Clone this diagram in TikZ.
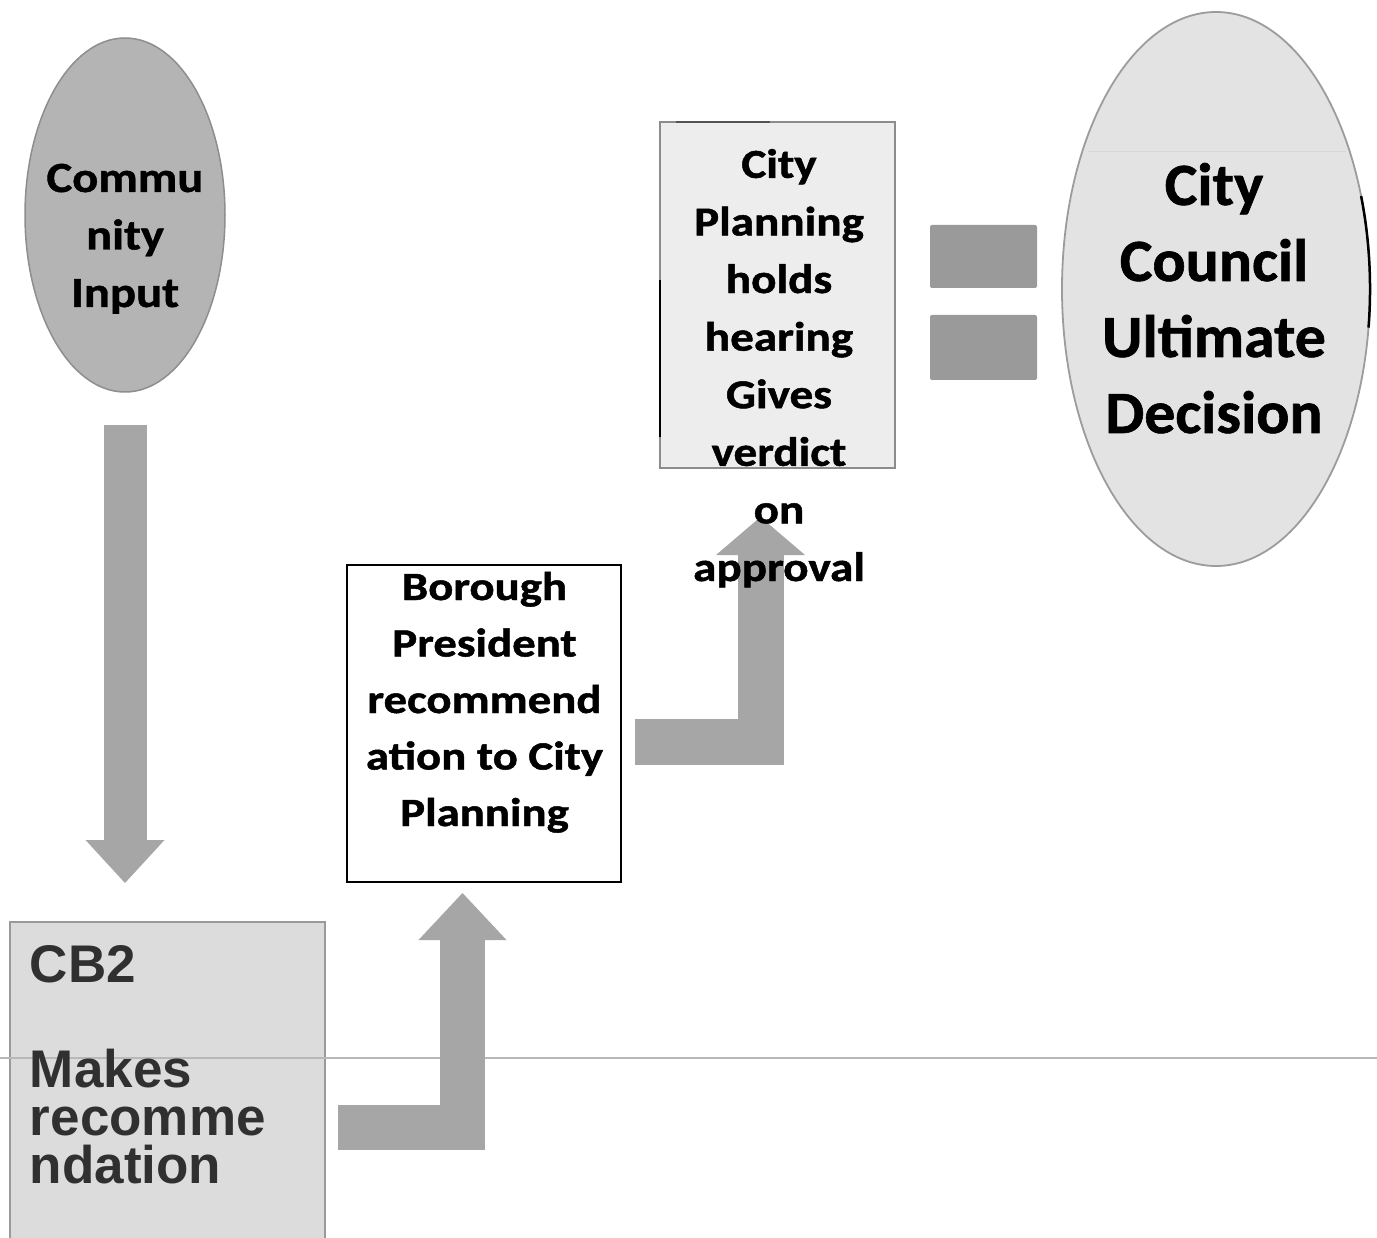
\documentclass[tikz,border=0pt]{standalone}
\usepackage{fontspec}
\setmainfont{Carlito}
\newfontfamily\ciFont[FakeStretch=1.13,FakeBold=1]{Carlito}
\newfontfamily\bpFont[FakeStretch=1.17,FakeBold=1.2]{Carlito}
\newfontfamily\cpFont[FakeStretch=1.15,FakeBold=1.2]{Carlito}
\newfontfamily\ccFont[FakeStretch=1.03,FakeBold=1]{Carlito}
\newfontfamily\arialFont{Liberation Sans}
\usetikzlibrary{arrows.meta,shapes.geometric}
\definecolor{arrowgray}{HTML}{A6A6A6}
\definecolor{eqgray}{HTML}{9A9A9A}
\definecolor{ciFill}{HTML}{B4B4B4}
\definecolor{ciLine}{HTML}{8E8E8E}
\definecolor{ccFill}{HTML}{E3E3E3}
\definecolor{ccLine}{HTML}{9C9C9C}
\definecolor{cbFill}{HTML}{DCDCDC}
\definecolor{cbLine}{HTML}{9A9A9A}
\definecolor{cpFill}{HTML}{EDEDED}
\definecolor{cpLine}{HTML}{8C8C8C}
\definecolor{cbText}{HTML}{303030}
\begin{document}
\begin{tikzpicture}[x=1pt,y=-1pt,
  shapebox/.style={rectangle, inner sep=0pt, outer sep=0pt},
  oval/.style={ellipse, inner sep=0pt, outer sep=0pt},
  eqbar/.style={rectangle, fill=eqgray, rounded corners=2pt, inner sep=0pt, minimum width=107pt},
  lbl/.style={inner sep=0pt, outer sep=0pt, align=center, anchor=base},
  barrow/.style={draw=arrowgray, line width=45pt, line join=miter, line cap=butt},
]
\clip (0,0) rectangle (1377,1238);
\fill[white] (0,0) rectangle (1377,1238);

% shapes
\node[oval, draw=ciLine, fill=ciFill, line width=1.5pt, minimum width=200pt, minimum height=354pt] (ci) at (125,215) {};
\node[oval, draw=ccLine, fill=ccFill, line width=1.8pt, minimum width=308pt, minimum height=554pt] (cc) at (1216,289) {};
\node[shapebox, draw=cbLine, fill=cbFill, line width=1.8pt, minimum width=315pt, minimum height=330pt, anchor=north west] (cb2) at (10,922) {};
\node[shapebox, draw=black, fill=white, line width=1.8pt, minimum width=274pt, minimum height=317pt, anchor=north west] (bp) at (347,565) {};
\node[shapebox, draw=cpLine, fill=cpFill, line width=1.8pt, minimum width=235pt, minimum height=346pt, anchor=north west] (cp) at (660,122) {};
\node[eqbar, minimum height=63pt] (eq1) at (983.5,256.5) {};
\node[eqbar, minimum height=65pt] (eq2) at (983.5,347.5) {};

% scan marks
\draw[black, line width=2.5pt] (1361.1,196.1) arc[start angle=-19.6, end angle=8, x radius=154, y radius=277];
\draw[black, line width=2pt] (660,280) -- (660,437);
\draw[cpLine!60!black, line width=1.5pt] (676,122) -- (770,122);
\draw[ccLine!40, line width=1pt] (1088,152) -- (1346,152);

% horizontal rule
\draw[black!28, line width=1.5pt] (0,1058) -- (1377,1058);

% connectors
\draw[barrow, line width=43pt, -{Triangle[width=79pt,length=43pt,line width=0pt]}, shorten <=33pt, shorten >=39pt]
  (ci.south) -- (ci.south |- cb2.north);
\draw[barrow, -{Triangle[width=88pt,length=47pt,line width=0pt]}, shorten >=11pt]
  ([shift={(13,40.5)}]cb2.east) -| ([xshift=-21.5pt]bp.south);
\draw[barrow, line width=46pt, -{Triangle[width=89pt,length=38pt,line width=0pt]}, shorten >=49pt]
  ([shift={(14,18)}]bp.east) -| ([xshift=-17pt]cp.south);

% texts (anchor base = baseline of the last line)
\node[lbl, font=\ciFont\bfseries\fontsize{43}{57.5}\selectfont] (ciT) at (125,307) {Commu\\nity\\Input};
\node[lbl, font=\ccFont\bfseries\fontsize{60}{76}\selectfont] (ccT) at (1214,433) {City\\Council\\Ultimate\\Decision};
\node[lbl, font=\cpFont\bfseries\fontsize{41}{57.6}\selectfont] (cpT) at (779,581) {City\\Planning\\holds\\hearing\\Gives\\verdict\\on\\approval};
\node[lbl, font=\bpFont\bfseries\fontsize{40}{56.5}\selectfont] (bpT) at (484.5,826) {Borough\\President\\recommend\\ation to City\\Planning};
\node[inner sep=0pt, outer sep=0pt, align=left, anchor=base west, text=cbText, font=\arialFont\bfseries\fontsize{53}{48}\selectfont] (cbT) at (30,1183) {CB2\\[57pt]Makes\\recomme\\ndation};
\end{tikzpicture}
\end{document}
